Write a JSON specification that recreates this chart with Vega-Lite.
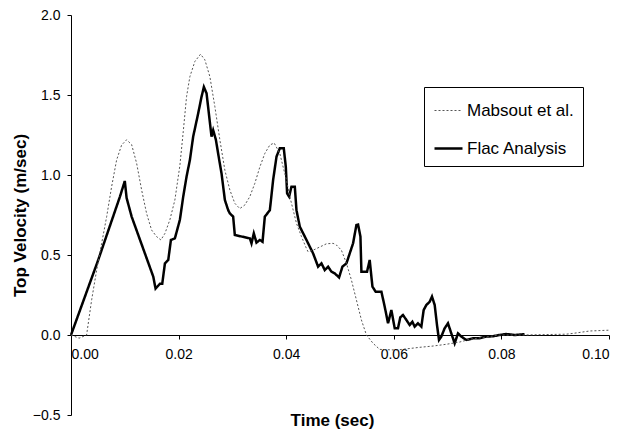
{
  "$schema": "https://vega.github.io/schema/vega-lite/v6.json",
  "autosize": {"type": "none"},
  "padding": {"left": 71, "top": 15, "right": 15, "bottom": 18},
  "width": 538,
  "height": 400,
  "background": "white",
  "config": {
    "font": "Liberation Sans",
    "view": {"stroke": null},
    "axis": {"grid": false, "domainColor": "black", "tickColor": "black", "labelColor": "black", "titleColor": "black", "labelFontSize": 14, "titleFontSize": 17, "titleFontWeight": "bold", "tickSize": 4, "domainWidth": 1, "tickWidth": 1}
  },
  "data": {"values": [
    {"s":"Flac Analysis","t":0,"v":0},
    {"s":"Flac Analysis","t":0.00507,"v":0.47},
    {"s":"Flac Analysis","t":0.0091,"v":0.865},
    {"s":"Flac Analysis","t":0.0100,"v":0.9625},
    {"s":"Flac Analysis","t":0.01034,"v":0.856},
    {"s":"Flac Analysis","t":0.01127,"v":0.74},
    {"s":"Flac Analysis","t":0.01529,"v":0.365},
    {"s":"Flac Analysis","t":0.01572,"v":0.29},
    {"s":"Flac Analysis","t":0.01653,"v":0.32},
    {"s":"Flac Analysis","t":0.01696,"v":0.32},
    {"s":"Flac Analysis","t":0.01746,"v":0.448},
    {"s":"Flac Analysis","t":0.01808,"v":0.469},
    {"s":"Flac Analysis","t":0.01857,"v":0.594},
    {"s":"Flac Analysis","t":0.01931,"v":0.604},
    {"s":"Flac Analysis","t":0.02024,"v":0.72},
    {"s":"Flac Analysis","t":0.02086,"v":0.865},
    {"s":"Flac Analysis","t":0.02148,"v":0.99},
    {"s":"Flac Analysis","t":0.0221,"v":1.094},
    {"s":"Flac Analysis","t":0.02271,"v":1.24},
    {"s":"Flac Analysis","t":0.02364,"v":1.385},
    {"s":"Flac Analysis","t":0.02427,"v":1.49},
    {"s":"Flac Analysis","t":0.0247,"v":1.55},
    {"s":"Flac Analysis","t":0.0252,"v":1.51},
    {"s":"Flac Analysis","t":0.02569,"v":1.365},
    {"s":"Flac Analysis","t":0.02612,"v":1.24},
    {"s":"Flac Analysis","t":0.02643,"v":1.28},
    {"s":"Flac Analysis","t":0.02693,"v":1.22},
    {"s":"Flac Analysis","t":0.02755,"v":1.094},
    {"s":"Flac Analysis","t":0.02798,"v":1.01},
    {"s":"Flac Analysis","t":0.0286,"v":0.844},
    {"s":"Flac Analysis","t":0.02922,"v":0.78},
    {"s":"Flac Analysis","t":0.02953,"v":0.76},
    {"s":"Flac Analysis","t":0.03014,"v":0.74},
    {"s":"Flac Analysis","t":0.03045,"v":0.625},
    {"s":"Flac Analysis","t":0.03324,"v":0.604},
    {"s":"Flac Analysis","t":0.03355,"v":0.573},
    {"s":"Flac Analysis","t":0.03398,"v":0.635},
    {"s":"Flac Analysis","t":0.03448,"v":0.577},
    {"s":"Flac Analysis","t":0.0351,"v":0.594},
    {"s":"Flac Analysis","t":0.0356,"v":0.583},
    {"s":"Flac Analysis","t":0.03603,"v":0.74},
    {"s":"Flac Analysis","t":0.03696,"v":0.78},
    {"s":"Flac Analysis","t":0.03757,"v":0.969},
    {"s":"Flac Analysis","t":0.0382,"v":1.115},
    {"s":"Flac Analysis","t":0.03881,"v":1.167},
    {"s":"Flac Analysis","t":0.03955,"v":1.167},
    {"s":"Flac Analysis","t":0.03993,"v":1.05},
    {"s":"Flac Analysis","t":0.04017,"v":0.885},
    {"s":"Flac Analysis","t":0.04054,"v":0.865},
    {"s":"Flac Analysis","t":0.04098,"v":0.927},
    {"s":"Flac Analysis","t":0.0416,"v":0.927},
    {"s":"Flac Analysis","t":0.04191,"v":0.78},
    {"s":"Flac Analysis","t":0.04253,"v":0.677},
    {"s":"Flac Analysis","t":0.04377,"v":0.594},
    {"s":"Flac Analysis","t":0.045,"v":0.51},
    {"s":"Flac Analysis","t":0.04593,"v":0.427},
    {"s":"Flac Analysis","t":0.04655,"v":0.448},
    {"s":"Flac Analysis","t":0.04717,"v":0.406},
    {"s":"Flac Analysis","t":0.04779,"v":0.427},
    {"s":"Flac Analysis","t":0.0484,"v":0.396},
    {"s":"Flac Analysis","t":0.04902,"v":0.385},
    {"s":"Flac Analysis","t":0.04983,"v":0.36},
    {"s":"Flac Analysis","t":0.05045,"v":0.427},
    {"s":"Flac Analysis","t":0.0512,"v":0.448},
    {"s":"Flac Analysis","t":0.05181,"v":0.51},
    {"s":"Flac Analysis","t":0.05243,"v":0.573},
    {"s":"Flac Analysis","t":0.05305,"v":0.6875},
    {"s":"Flac Analysis","t":0.05336,"v":0.69},
    {"s":"Flac Analysis","t":0.0538,"v":0.615},
    {"s":"Flac Analysis","t":0.05398,"v":0.396},
    {"s":"Flac Analysis","t":0.05503,"v":0.396},
    {"s":"Flac Analysis","t":0.05552,"v":0.469},
    {"s":"Flac Analysis","t":0.05603,"v":0.302},
    {"s":"Flac Analysis","t":0.05664,"v":0.27},
    {"s":"Flac Analysis","t":0.0577,"v":0.27},
    {"s":"Flac Analysis","t":0.05831,"v":0.177},
    {"s":"Flac Analysis","t":0.05893,"v":0.073},
    {"s":"Flac Analysis","t":0.05955,"v":0.156},
    {"s":"Flac Analysis","t":0.06017,"v":0.042},
    {"s":"Flac Analysis","t":0.06078,"v":0.042},
    {"s":"Flac Analysis","t":0.0612,"v":0.11},
    {"s":"Flac Analysis","t":0.06171,"v":0.125},
    {"s":"Flac Analysis","t":0.06234,"v":0.094},
    {"s":"Flac Analysis","t":0.06295,"v":0.0625},
    {"s":"Flac Analysis","t":0.06345,"v":0.083},
    {"s":"Flac Analysis","t":0.06388,"v":0.052},
    {"s":"Flac Analysis","t":0.0645,"v":0.073},
    {"s":"Flac Analysis","t":0.06512,"v":0.052},
    {"s":"Flac Analysis","t":0.06555,"v":0.156},
    {"s":"Flac Analysis","t":0.06605,"v":0.1875},
    {"s":"Flac Analysis","t":0.06667,"v":0.208},
    {"s":"Flac Analysis","t":0.0671,"v":0.24},
    {"s":"Flac Analysis","t":0.0676,"v":0.1875},
    {"s":"Flac Analysis","t":0.06803,"v":0.0625},
    {"s":"Flac Analysis","t":0.0684,"v":-0.031},
    {"s":"Flac Analysis","t":0.06883,"v":-0.01},
    {"s":"Flac Analysis","t":0.06945,"v":0.042},
    {"s":"Flac Analysis","t":0.07007,"v":0.073},
    {"s":"Flac Analysis","t":0.07069,"v":0.01},
    {"s":"Flac Analysis","t":0.07131,"v":-0.052},
    {"s":"Flac Analysis","t":0.07193,"v":0.01},
    {"s":"Flac Analysis","t":0.07255,"v":-0.01},
    {"s":"Flac Analysis","t":0.07348,"v":-0.031},
    {"s":"Flac Analysis","t":0.07471,"v":-0.021},
    {"s":"Flac Analysis","t":0.07595,"v":-0.02},
    {"s":"Flac Analysis","t":0.07719,"v":-0.01},
    {"s":"Flac Analysis","t":0.0784,"v":-0.008},
    {"s":"Flac Analysis","t":0.07966,"v":0},
    {"s":"Flac Analysis","t":0.0809,"v":0.006},
    {"s":"Flac Analysis","t":0.08245,"v":0},
    {"s":"Flac Analysis","t":0.0843,"v":0.005},
    {"s":"Mabsout et al.","t":0,"v":0},
    {"s":"Mabsout et al.","t":0.0015,"v":-0.02},
    {"s":"Mabsout et al.","t":0.0029,"v":0},
    {"s":"Mabsout et al.","t":0.00384,"v":0.22},
    {"s":"Mabsout et al.","t":0.00477,"v":0.406},
    {"s":"Mabsout et al.","t":0.0057,"v":0.573},
    {"s":"Mabsout et al.","t":0.00663,"v":0.74},
    {"s":"Mabsout et al.","t":0.00755,"v":0.927},
    {"s":"Mabsout et al.","t":0.00848,"v":1.094},
    {"s":"Mabsout et al.","t":0.00941,"v":1.1875},
    {"s":"Mabsout et al.","t":0.01034,"v":1.22},
    {"s":"Mabsout et al.","t":0.01127,"v":1.19},
    {"s":"Mabsout et al.","t":0.0122,"v":1.073},
    {"s":"Mabsout et al.","t":0.01313,"v":0.906},
    {"s":"Mabsout et al.","t":0.01405,"v":0.76},
    {"s":"Mabsout et al.","t":0.01498,"v":0.656},
    {"s":"Mabsout et al.","t":0.01591,"v":0.615},
    {"s":"Mabsout et al.","t":0.01671,"v":0.594},
    {"s":"Mabsout et al.","t":0.01746,"v":0.635},
    {"s":"Mabsout et al.","t":0.01838,"v":0.72},
    {"s":"Mabsout et al.","t":0.01931,"v":0.844},
    {"s":"Mabsout et al.","t":0.02024,"v":1.06},
    {"s":"Mabsout et al.","t":0.02086,"v":1.27},
    {"s":"Mabsout et al.","t":0.02148,"v":1.49},
    {"s":"Mabsout et al.","t":0.0221,"v":1.615},
    {"s":"Mabsout et al.","t":0.02303,"v":1.71},
    {"s":"Mabsout et al.","t":0.02408,"v":1.755},
    {"s":"Mabsout et al.","t":0.02488,"v":1.72},
    {"s":"Mabsout et al.","t":0.02581,"v":1.615},
    {"s":"Mabsout et al.","t":0.02674,"v":1.427},
    {"s":"Mabsout et al.","t":0.02767,"v":1.22},
    {"s":"Mabsout et al.","t":0.0286,"v":1.03},
    {"s":"Mabsout et al.","t":0.02953,"v":0.906},
    {"s":"Mabsout et al.","t":0.03045,"v":0.823},
    {"s":"Mabsout et al.","t":0.03138,"v":0.79},
    {"s":"Mabsout et al.","t":0.03231,"v":0.8125},
    {"s":"Mabsout et al.","t":0.03324,"v":0.865},
    {"s":"Mabsout et al.","t":0.03417,"v":0.948},
    {"s":"Mabsout et al.","t":0.0351,"v":1.05},
    {"s":"Mabsout et al.","t":0.03603,"v":1.135},
    {"s":"Mabsout et al.","t":0.03696,"v":1.1875},
    {"s":"Mabsout et al.","t":0.03776,"v":1.2},
    {"s":"Mabsout et al.","t":0.03881,"v":1.135},
    {"s":"Mabsout et al.","t":0.03943,"v":1.05},
    {"s":"Mabsout et al.","t":0.04005,"v":0.969},
    {"s":"Mabsout et al.","t":0.04067,"v":0.865},
    {"s":"Mabsout et al.","t":0.04191,"v":0.698},
    {"s":"Mabsout et al.","t":0.04284,"v":0.615},
    {"s":"Mabsout et al.","t":0.04377,"v":0.54},
    {"s":"Mabsout et al.","t":0.04407,"v":0.52},
    {"s":"Mabsout et al.","t":0.045,"v":0.53},
    {"s":"Mabsout et al.","t":0.04624,"v":0.55},
    {"s":"Mabsout et al.","t":0.04748,"v":0.57},
    {"s":"Mabsout et al.","t":0.04871,"v":0.573},
    {"s":"Mabsout et al.","t":0.04933,"v":0.5625},
    {"s":"Mabsout et al.","t":0.05026,"v":0.53},
    {"s":"Mabsout et al.","t":0.0512,"v":0.448},
    {"s":"Mabsout et al.","t":0.05212,"v":0.344},
    {"s":"Mabsout et al.","t":0.05305,"v":0.219},
    {"s":"Mabsout et al.","t":0.05398,"v":0.094},
    {"s":"Mabsout et al.","t":0.05491,"v":0},
    {"s":"Mabsout et al.","t":0.05615,"v":-0.052},
    {"s":"Mabsout et al.","t":0.05738,"v":-0.09},
    {"s":"Mabsout et al.","t":0.0605,"v":-0.094},
    {"s":"Mabsout et al.","t":0.06481,"v":-0.077},
    {"s":"Mabsout et al.","t":0.06729,"v":-0.069},
    {"s":"Mabsout et al.","t":0.06976,"v":-0.058},
    {"s":"Mabsout et al.","t":0.07224,"v":-0.044},
    {"s":"Mabsout et al.","t":0.0741,"v":-0.027},
    {"s":"Mabsout et al.","t":0.0797,"v":0},
    {"s":"Mabsout et al.","t":0.084,"v":0},
    {"s":"Mabsout et al.","t":0.092,"v":0.005},
    {"s":"Mabsout et al.","t":0.0933,"v":0.01},
    {"s":"Mabsout et al.","t":0.0964,"v":0.025},
    {"s":"Mabsout et al.","t":0.1,"v":0.03}
  ]},
  "mark": {"type": "line", "clip": false},
  "encoding": {
    "x": {"field": "t", "type": "quantitative", "scale": {"domain": [0, 0.1], "nice": false, "zero": false},
      "axis": {"orient": "bottom", "offset": -80, "values": [0, 0.02, 0.04, 0.06, 0.08, 0.1], "format": ".2f", "labelPadding": 8, "title": "Time (sec)", "titleX": 261, "titleY": 85, "titleBaseline": "middle", "titleAlign": "center", "titleAnchor": null}},
    "y": {"field": "v", "type": "quantitative", "scale": {"domain": [-0.5, 2.0], "nice": false, "zero": false},
      "axis": {"values": [-0.5, 0, 0.5, 1, 1.5, 2], "format": ".1f", "labelPadding": 7, "title": "Top Velocity (m/sec)", "titleX": -51, "titleY": 200, "titleAngle": -90, "titleBaseline": "middle", "titleAlign": "center"}},
    "color": {"field": "s", "type": "nominal", "scale": {"domain": ["Mabsout et al.", "Flac Analysis"], "range": ["#555555", "black"]},
      "legend": {"orient": "none", "legendX": 353, "legendY": 72, "title": null, "strokeColor": "black", "fillColor": "white", "padding": 9, "labelFontSize": 17, "labelOffset": 3, "symbolType": "stroke", "symbolSize": 784, "rowPadding": 14, "labelColor": "black"}},
    "strokeDash": {"field": "s", "type": "nominal", "scale": {"domain": ["Mabsout et al.", "Flac Analysis"], "range": [[2, 2], [1, 0]]}},
    "strokeWidth": {"field": "s", "type": "nominal", "scale": {"domain": ["Mabsout et al.", "Flac Analysis"], "range": [1, 2.5]}}
  }
}
